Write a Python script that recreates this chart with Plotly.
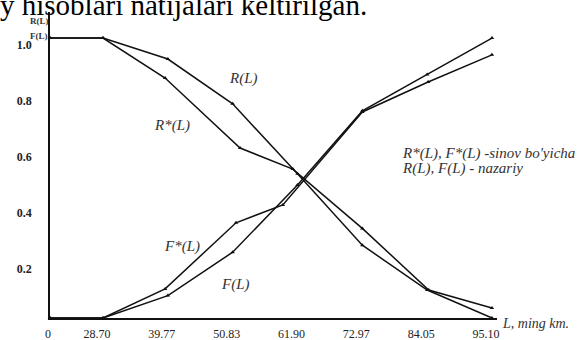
import plotly.graph_objects as go

# ---- data -----------------------------------------------------------------
# distance ticks along L (thousand km); the axis is shortened, origin shown as "0"
L_ticks = [28.70, 39.77, 50.83, 61.90, 72.97, 84.05, 95.10]
L_tick_text = ["28.70", "39.77", "50.83", "61.90", "72.97", "84.05", "95.10"]
L_origin = 19.65          # axis start, labelled "0"

# theoretical reliability R(L) and failure probability F(L)
L_theory = [0, 28.70, 39.77, 50.83, 61.90, 72.97, 84.05, 95.10]
R_theory = [1.0, 1.0, 0.925, 0.765, 0.515, 0.26, 0.10, 0.0]
F_theory = [0.0, 0.0, 0.08, 0.235, 0.475, 0.74, 0.87, 1.0]

# test results R*(L), F*(L)
L_R_exp = [0, 28.70, 39.3, 52.1, 61.1, 72.97, 84.3, 95.10]
R_exp = [1.0, 1.0, 0.857, 0.607, 0.532, 0.32, 0.10, 0.036]
L_F_exp = [0, 28.70, 39.3, 51.4, 59.4, 72.97, 84.2, 95.10]
F_exp = [0.0, 0.0, 0.104, 0.34, 0.404, 0.736, 0.843, 0.94]

y_ticks = [0.2, 0.4, 0.6, 0.8, 1.0]
y_tick_text = ["0.2", "0.4", "0.6", "0.8", "1.0"]


def on_axis(xs):
    """Place the L = 0 point at the start of the shortened axis."""
    return [L_origin if v == 0 else v for v in xs]


# ---- layout geometry (pixels) ---------------------------------------------
W, H = 588, 340
ML, MR, MT, MB = 50, 91, 12, 22
PW, PH = W - ML - MR, H - MT - MB


def px_x(p):
    return (p - ML) / PW


def px_y(p):
    return (H - MB - p) / PH


SERIF = "Liberation Serif, Times New Roman, serif"
INK = "#111111"
SOFT = "#333333"

fig = go.Figure()

series = [
    (L_theory, R_theory),
    (L_theory, F_theory),
    (L_R_exp, R_exp),
    (L_F_exp, F_exp),
]
for xs, ys in series:
    fig.add_trace(go.Scatter(
        x=on_axis(xs), y=ys, mode="lines+markers",
        line=dict(color=INK, width=1.5),
        marker=dict(symbol="triangle-up", size=4, color=INK),
        showlegend=False, cliponaxis=False,
    ))

fig.update_layout(
    width=W, height=H,
    margin=dict(l=ML, r=MR, t=MT, b=MB, pad=0, autoexpand=False),
    paper_bgcolor="white", plot_bgcolor="white",
    font=dict(family=SERIF, color=INK),
    xaxis=dict(
        range=[L_origin, 95.96],
        tickvals=[L_origin + 0.7] + L_ticks,
        ticktext=["0"] + L_tick_text,
        ticks="", showgrid=False, zeroline=False,
        showline=True, linecolor=INK, linewidth=1.5,
        tickfont=dict(family=SERIF, size=12, color="#222"),
        ticklabelshift=-6, ticklabelstandoff=4,
    ),
    yaxis=dict(
        range=[0, 1.093],
        tickvals=y_ticks, ticktext=y_tick_text,
        ticks="", showgrid=False, zeroline=False,
        showline=True, linecolor=INK, linewidth=1.5,
        tickfont=dict(family=SERIF, size=12, color="#222", weight="bold"),
        ticklabelshift=7, ticklabelstandoff=14,
    ),
)

ann = []
# running text of the page above the figure
ann.append(dict(
    text="y hisoblari natijalari keltirilgan.",
    xref="paper", yref="paper", x=px_x(-2), y=px_y(5), xanchor="left", yanchor="middle",
    showarrow=False, font=dict(family=SERIF, size=29, color="black"),
))
# axis captions
ann.append(dict(text="<b>R(L)</b>", xref="paper", yref="paper", x=px_x(28), y=px_y(14),
                showarrow=False, font=dict(family=SERIF, size=9, color=SOFT)))
ann.append(dict(text="<b>F(L)</b>", xref="paper", yref="paper", x=px_x(28), y=px_y(29),
                showarrow=False, font=dict(family=SERIF, size=9, color=SOFT)))
ann.append(dict(text="<i>L, ming km.</i>", xref="paper", yref="paper", x=px_x(500), y=px_y(333),
                xanchor="left", showarrow=False, font=dict(family=SERIF, size=14, color=SOFT)))

# curve labels
for txt, lx, ly in [("R(L)", 52.6, 0.857), ("R*(L)", 40.5, 0.686),
                    ("F*(L)", 42.2, 0.257), ("F(L)", 51.4, 0.118)]:
    ann.append(dict(text=f"<i>{txt}</i>", x=lx, y=ly, xref="x", yref="y", showarrow=False,
                    font=dict(family=SERIF, size=15, color=SOFT)))

# key to the curves
ann.append(dict(text="<i>R*(L), F*(L) -sinov bo'yicha</i>", x=px_x(400), y=px_y(153),
                xref="paper", yref="paper", xanchor="left", showarrow=False,
                font=dict(family=SERIF, size=15, color=SOFT)))
ann.append(dict(text="<i>R(L), F(L) - nazariy</i>", x=px_x(400), y=px_y(168),
                xref="paper", yref="paper", xanchor="left", showarrow=False,
                font=dict(family=SERIF, size=15, color=SOFT)))

fig.update_layout(annotations=ann)
fig.write_html("out.html")
